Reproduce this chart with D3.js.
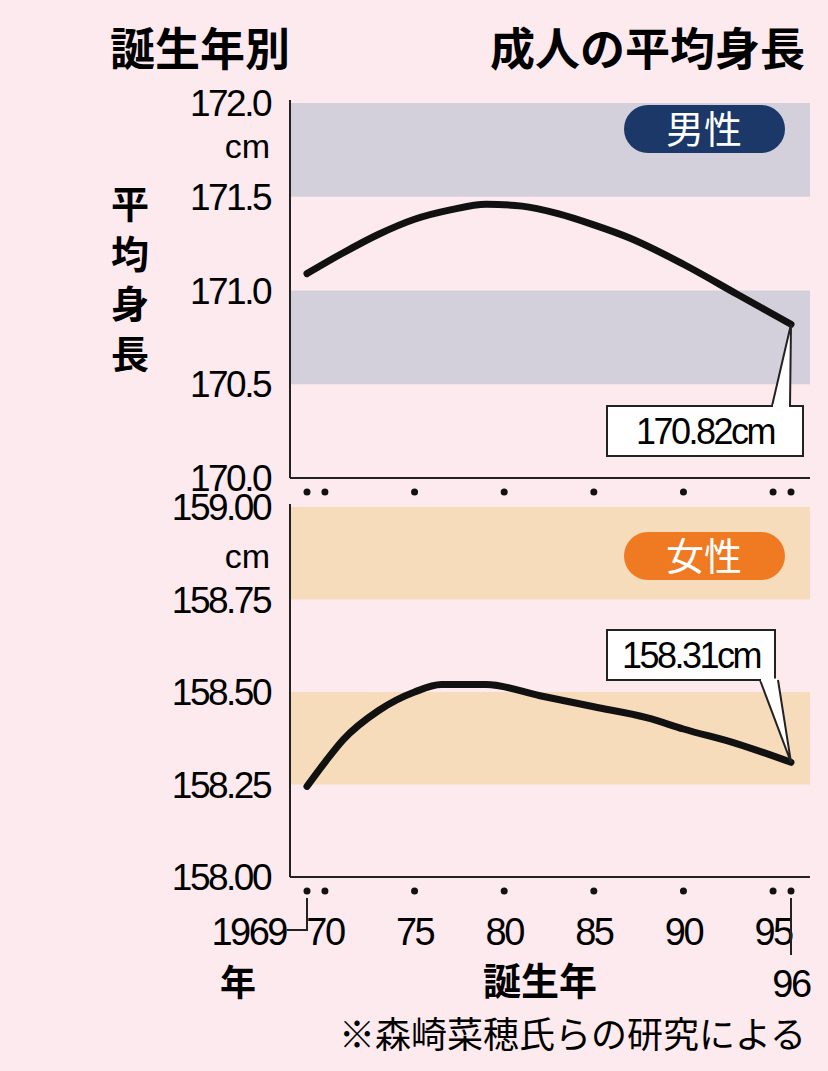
<!DOCTYPE html><html><head><meta charset="utf-8">
<script src="https://cdn.jsdelivr.net/npm/d3@7"></script>
<style>body{margin:0;background:#fceaee}</style></head><body>
<svg id="c" width="828" height="1071"></svg>
<script>
const maleYears=[1969,1971,1973,1975,1977,1979,1981,1983,1985,1987,1990,1993,1996];
const maleVals=[171.09,171.20,171.30,171.38,171.43,171.46,171.45,171.41,171.35,171.28,171.14,170.98,170.82];
const femYears=[1969,1970,1971,1973,1975,1976.5,1979,1982,1985,1988,1990,1993,1996];
const femVals=[158.245,158.31,158.37,158.45,158.50,158.52,158.52,158.49,158.46,158.43,158.40,158.36,158.31];
const maleTicks=["172.0","171.5","171.0","170.5","170.0"];
const femTicks=["159.00","158.75","158.50","158.25","158.00"];
const xLabels=["70","75","80","85","90","95"];
const dotYears=[1969,1970,1975,1980,1985,1990,1995,1996];
const svg=d3.select("#c");
const F="'Liberation Sans','DejaVu Sans',sans-serif", J="'Noto Sans CJK JP',sans-serif";
const x=d3.scaleLinear().domain([1969,1996]).range([307,791]);
const yM=d3.scaleLinear().domain([170,172]).range([478,103]);
const yF=d3.scaleLinear().domain([158,159]).range([877,507]);
svg.append("rect").attr("width",828).attr("height",1071).attr("fill","#fceaee");
svg.append("text").attr("x",110).attr("y",66).attr("font-family",J).attr("font-weight","bold").attr("font-size",45).text("誕生年別");
svg.append("text").attr("x",805).attr("y",66).attr("text-anchor","end").attr("font-family",J).attr("font-weight","bold").attr("font-size",45).text("成人の平均身長");
function panel(y,ticks,bands,bandColor,years,vals,label,labelColor,ly,unitY){
  bands.forEach(b=>svg.append("rect").attr("x",290).attr("width",520).attr("y",y(b[0])).attr("height",y(b[1])-y(b[0])).attr("fill",bandColor));
  svg.append("line").attr("x1",290).attr("x2",290).attr("y1",y.range()[1]-3).attr("y2",y.range()[0]).attr("stroke","#222").attr("stroke-width",2);
  svg.append("line").attr("x1",290).attr("x2",810).attr("y1",y.range()[0]).attr("y2",y.range()[0]).attr("stroke","#222").attr("stroke-width",2);
  ticks.forEach(t=>svg.append("text").attr("x",270).attr("y",y(+t)+13).attr("text-anchor","end").attr("font-family",F).attr("font-size",37).attr("letter-spacing",-2.5).text(t));
  svg.append("text").attr("x",270).attr("y",unitY).attr("text-anchor","end").attr("font-family",F).attr("font-size",34).text("cm");
  const line=d3.line().x((d,i)=>x(years[i])).y(d=>y(d)).curve(d3.curveMonotoneX);
  svg.append("path").attr("d",line(vals)).attr("fill","none").attr("stroke","#111").attr("stroke-width",7).attr("stroke-linecap","round");
  svg.append("rect").attr("x",624).attr("y",ly).attr("width",161).attr("height",48).attr("rx",24).attr("fill",labelColor);
  svg.append("text").attr("x",704).attr("y",ly+38).attr("text-anchor","middle").attr("font-family",J).attr("font-size",38).attr("fill","#fff").text(label);
  dotYears.forEach(d=>svg.append("circle").attr("cx",x(d)).attr("cy",y.range()[0]+14).attr("r",3.5).attr("fill","#111"));
}
panel(yM,maleTicks,[[172,171.5],[171,170.5]],"#d3d0dc",maleYears,maleVals,"男性","#1b3868",105,158);
panel(yF,femTicks,[[159,158.75],[158.5,158.25]],"#f6dcbb",femYears,femVals,"女性","#f07a22",532,568);
function callout(bx,by,w,h,px,py,tipX,text,down){
  const b=down?by+h:by;
  svg.append("path").attr("d",`M${bx},${by}H${bx+w}V${by+h}H${bx}Z`).attr("fill","#fff").attr("stroke","#222").attr("stroke-width",2);
  svg.append("path").attr("d",`M${tipX-10},${b}L${px},${py}L${tipX+8},${b}`).attr("fill","#fff").attr("stroke","#222").attr("stroke-width",2);
  svg.append("line").attr("x1",tipX-9).attr("x2",tipX+7).attr("y1",b).attr("y2",b).attr("stroke","#fff").attr("stroke-width",3);
  svg.append("text").attr("x",bx+w/2).attr("y",by+h/2+13).attr("text-anchor","middle").attr("font-family",F).attr("font-size",36).attr("letter-spacing",-2.5).text(text);
}
callout(607,406,196,50,x(1996),yM(170.82),782,"170.82cm",false);
callout(607,630,168,50,x(1996),yF(158.31),770,"158.31cm",true);
["平","均","身","長"].forEach((c,i)=>svg.append("text").attr("x",130).attr("y",218+i*50).attr("text-anchor","middle").attr("font-family",J).attr("font-weight","bold").attr("font-size",38).text(c));
xLabels.forEach(t=>svg.append("text").attr("x",x(+("19"+t))).attr("y",945).attr("text-anchor","middle").attr("font-family",F).attr("font-size",38).attr("letter-spacing",-2.5).text(t));
svg.append("text").attr("x",286).attr("y",945).attr("text-anchor","end").attr("font-family",F).attr("font-size",38).attr("letter-spacing",-2.5).text("1969");
svg.append("path").attr("d",`M287,930H${x(1969)}V898`).attr("fill","none").attr("stroke","#222").attr("stroke-width",2);
svg.append("line").attr("x1",x(1996)).attr("x2",x(1996)).attr("y1",898).attr("y2",955).attr("stroke","#222").attr("stroke-width",2);
svg.append("text").attr("x",238).attr("y",996).attr("text-anchor","middle").attr("font-family",J).attr("font-weight","bold").attr("font-size",36).text("年");
svg.append("text").attr("x",791).attr("y",997).attr("text-anchor","middle").attr("font-family",F).attr("font-size",38).attr("letter-spacing",-2.5).text("96");
svg.append("text").attr("x",540).attr("y",995).attr("text-anchor","middle").attr("font-family",J).attr("font-weight","bold").attr("font-size",38).text("誕生年");
svg.append("text").attr("x",806).attr("y",1048).attr("text-anchor","end").attr("font-family",J).attr("font-size",36).text("※森崎菜穂氏らの研究による");
</script></body></html>
